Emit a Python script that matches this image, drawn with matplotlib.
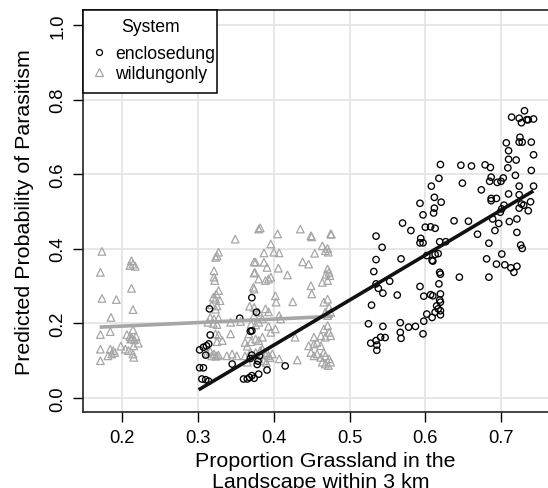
import matplotlib
matplotlib.use("Agg")
import matplotlib.pyplot as plt
from matplotlib.lines import Line2D
from matplotlib.patches import Rectangle
import numpy as np

plt.rcParams['font.family'] = ['Liberation Sans', 'DejaVu Sans']

# enclosedung (x, y)
enc_x = [0.731,0.714,0.724,0.727,0.734,0.736,0.743,0.725,0.724,0.728,0.707,0.740,0.710,0.743,0.710,0.720,0.709,0.740,0.719,0.724,0.743,0.710,0.724,0.727,0.730,0.739,0.724,0.736,0.721,0.711,0.721,0.726,0.728,0.701,0.694,0.705,0.713,0.717,0.721,0.681,0.684,0.645,0.684,0.669,0.692,0.697,0.657,0.638,0.689,0.699,0.701,0.704,0.687,0.687,0.694,0.674,0.649,0.685,0.687,0.695,0.700,0.703,0.647,0.661,0.679,0.686,0.620,
         0.618,0.608,0.612,0.621,0.593,0.612,0.611,0.597,0.570,0.600,0.607,0.613,0.581,0.535,0.594,0.593,0.597,0.543,0.619,0.627,0.613,0.617,0.609,0.610,0.602,0.568,0.535,0.532,0.535,0.538,0.544,0.553,0.563,0.593,0.598,0.607,0.610,0.618,0.619,0.620,0.529,0.620,0.619,0.620,0.615,0.617,0.620,0.613,0.620,0.602,0.609,0.598,0.525,0.544,0.567,0.578,0.587,0.567,0.568,0.597,0.541,0.547,0.528,0.535,0.536,0.536,
         0.415,0.391,0.371,0.355,0.315,0.377,0.369,0.371,0.316,0.314,0.311,0.307,0.302,0.310,0.302,0.307,0.345,0.378,0.379,0.369,0.371,0.305,0.310,0.314,0.360,0.365,0.368,0.371,0.374,0.381,0.380]
enc_y = [0.770,0.753,0.750,0.738,0.746,0.746,0.748,0.699,0.686,0.686,0.684,0.686,0.663,0.652,0.640,0.638,0.617,0.610,0.597,0.568,0.568,0.547,0.545,0.520,0.517,0.526,0.509,0.502,0.480,0.473,0.444,0.410,0.401,0.386,0.359,0.357,0.349,0.337,0.353,0.373,0.324,0.324,0.415,0.439,0.449,0.468,0.474,0.475,0.480,0.498,0.507,0.517,0.535,0.529,0.535,0.558,0.576,0.581,0.592,0.578,0.581,0.590,0.624,0.622,0.625,0.618,0.626,
         0.589,0.568,0.538,0.525,0.522,0.509,0.496,0.491,0.469,0.458,0.459,0.455,0.449,0.434,0.428,0.416,0.416,0.404,0.419,0.419,0.385,0.387,0.369,0.367,0.382,0.373,0.371,0.339,0.306,0.294,0.281,0.313,0.276,0.299,0.273,0.277,0.274,0.306,0.337,0.332,0.249,0.279,0.263,0.257,0.247,0.239,0.234,0.230,0.223,0.225,0.216,0.206,0.199,0.192,0.202,0.190,0.192,0.176,0.160,0.172,0.163,0.162,0.147,0.154,0.142,0.128,
         0.086,0.075,0.269,0.214,0.239,0.230,0.179,0.180,0.169,0.145,0.140,0.136,0.129,0.115,0.081,0.081,0.091,0.090,0.099,0.106,0.115,0.051,0.049,0.045,0.051,0.051,0.055,0.060,0.053,0.113,0.064]

# wildungonly (x, y)
wild_x = [0.173,0.171,0.173,0.192,0.185,0.171,0.184,0.171,0.171,0.184,0.188,0.181,0.186,0.190,0.198,0.204,0.208,0.212,0.210,0.217,0.214,0.212,0.214,0.214,0.206,0.210,0.213,0.216,0.218,0.211,0.221,0.214,0.215,0.215,
          0.327,0.325,0.323,0.321,0.321,0.322,0.324,0.327,0.320,0.329,0.323,0.318,0.325,0.323,0.316,0.321,0.327,0.320,0.325,0.313,0.323,0.327,0.332,0.325,0.343,0.321,0.325,0.327,0.323,0.318,0.338,0.345,0.351,0.349,0.343,0.312,0.316,
          0.374,0.374,0.373,0.368,0.374,0.370,0.376,0.367,0.362,0.370,0.365,0.362,0.380,0.356,0.365,0.369,
          0.382,0.405,0.435,0.449,0.475,0.396,0.387,0.400,0.407,0.464,0.468,0.472,0.471,0.454,0.387,0.391,0.376,0.438,0.446,0.406,0.418,0.471,0.473,0.469,0.474,0.393,0.389,0.396,0.464,0.471,0.449,0.450,0.402,0.403,0.389,0.393,0.425,0.466,0.471,0.473,0.468,0.475,0.471,0.407,0.409,0.380,0.385,0.380,0.393,0.396,0.402,0.428,0.453,0.462,0.466,0.471,0.473,0.475,0.468,0.446,0.453,0.457,0.462,0.385,0.380,0.376,0.385,0.391,0.382,0.376,0.393,0.389,0.380,0.387,0.395,0.398,0.390,0.431,0.407,0.449,0.453,0.457,0.462,0.466,0.468,0.473,0.468,0.472,0.475,0.464,0.375,0.380,0.374,0.374,0.450,0.476]
wild_y = [0.393,0.337,0.267,0.264,0.216,0.170,0.178,0.131,0.100,0.131,0.127,0.113,0.118,0.122,0.139,0.131,0.127,0.368,0.355,0.353,0.359,0.294,0.237,0.183,0.170,0.165,0.160,0.156,0.165,0.158,0.147,0.118,0.109,0.140,
          0.391,0.381,0.377,0.341,0.324,0.315,0.279,0.288,0.270,0.261,0.265,0.250,0.247,0.238,0.216,0.212,0.214,0.200,0.197,0.203,0.172,0.169,0.154,0.151,0.172,0.118,0.113,0.115,0.112,0.113,0.113,0.118,0.113,0.426,0.203,0.120,0.125,
          0.365,0.335,0.297,0.246,0.221,0.198,0.196,0.172,0.149,0.151,0.139,0.113,0.453,0.205,0.096,0.122,
          0.456,0.440,0.453,0.435,0.440,0.413,0.389,0.391,0.389,0.408,0.395,0.391,0.401,0.388,0.364,0.350,0.364,0.365,0.359,0.348,0.330,0.346,0.337,0.332,0.328,0.319,0.315,0.324,0.310,0.315,0.301,0.279,0.274,0.257,0.239,0.231,0.258,0.257,0.265,0.243,0.230,0.230,0.221,0.221,0.212,0.230,0.212,0.203,0.192,0.176,0.185,0.163,0.163,0.167,0.185,0.194,0.176,0.167,0.163,0.140,0.145,0.149,0.140,0.163,0.154,0.158,0.131,0.122,0.127,0.122,0.113,0.118,0.105,0.100,0.108,0.118,0.095,0.102,0.105,0.122,0.113,0.118,0.109,0.122,0.113,0.105,0.091,0.087,0.096,0.096,0.337,0.319,0.292,0.243,0.432,0.439]

# fitted lines: x range, intercept, slope
enc_fit_x = [0.3007, 0.7427]
enc_fit = (-0.3406, 1.206)
wild_fit_x = [0.170, 0.478]
wild_fit = (0.174, 0.094)

xticks = [0.2, 0.3, 0.4, 0.5, 0.6, 0.7]
yticks = [0.0, 0.2, 0.4, 0.6, 0.8, 1.0]
legend_title = 'System'
legend_labels = ['enclosedung', 'wildungonly']

W, H = 548, 489
fig = plt.figure(figsize=(W/100, H/100), dpi=100)
ax = fig.add_axes([83/W, 1 - 413/H, (550-83)/W, (413-11)/H])

def fx(px):
    return px / W

def fy(py):
    return 1 - py / H

GRAY = '#a6a6a6'
ax.set_xlim(0.148, 0.7647)
ax.set_ylim(-0.0375, 1.0402)
ax.set_xticks(xticks)
ax.set_yticks(yticks)
ax.set_xticklabels([f"{v:.1f}" for v in xticks])
ax.set_yticklabels([f"{v:.1f}" for v in yticks], rotation=90, va='center')
ax.grid(True, color='#e3e3e3', linewidth=1.2, zorder=0)
ax.set_axisbelow(True)
ax.tick_params(direction='out', length=7, width=1, labelsize=13.2, pad=5, colors='black')
ax.tick_params(axis='y', pad=5)
for s in ['left', 'bottom', 'top']:
    ax.spines[s].set_linewidth(1.2)
    ax.spines[s].set_color('#222222')
ax.spines['right'].set_visible(False)

ax.scatter(wild_x, wild_y, marker='^', s=30, facecolors='none', edgecolors=GRAY, linewidths=0.9, zorder=3)
ax.scatter(enc_x, enc_y, marker='o', s=21, facecolors='none', edgecolors='black', linewidths=0.95, zorder=3)

wx = np.array(wild_fit_x)
ax.plot(wx, wild_fit[0] + wild_fit[1]*wx, color=GRAY, lw=2.6, zorder=4, solid_capstyle='butt')
ex = np.array(enc_fit_x)
ax.plot(ex, enc_fit[0] + enc_fit[1]*ex, color='#111111', lw=2.6, zorder=5, solid_capstyle='butt')

# legend box drawn in figure coordinates
rect = Rectangle((fx(83), fy(94)), fx(217) - fx(83), fy(11) - fy(94), transform=fig.transFigure,
                 facecolor='white', edgecolor='black', linewidth=1.1, zorder=10)
fig.patches.append(rect)
fig.text(fx(150), fy(32), legend_title, ha='center', va='baseline', fontsize=12.7, zorder=11)
fig.text(fx(115), fy(59), legend_labels[0], ha='left', va='baseline', fontsize=12.7, zorder=11)
fig.text(fx(115), fy(79), legend_labels[1], ha='left', va='baseline', fontsize=12.7, zorder=11)
fig.add_artist(Line2D([fx(99)], [fy(53)], marker='o', ls='none', markerfacecolor='none',
                      markeredgecolor='black', markersize=4.3, markeredgewidth=0.9, transform=fig.transFigure, zorder=11))
fig.add_artist(Line2D([fx(99)], [fy(72.5)], marker='^', ls='none', markerfacecolor='none',
                      markeredgecolor=GRAY, markersize=5.2, markeredgewidth=0.9, transform=fig.transFigure, zorder=11))

fig.text(fx(325), fy(467), 'Proportion Grassland in the', ha='center', va='baseline', fontsize=15.4)
fig.text(fx(321), fy(488), 'Landscape within 3 km', ha='center', va='baseline', fontsize=15.4)
fig.text(fx(25), fy(212), 'Predicted Probability of Parasitism', ha='center', va='center', rotation=90, fontsize=15.4)

fig.savefig('out.png', dpi=100)
